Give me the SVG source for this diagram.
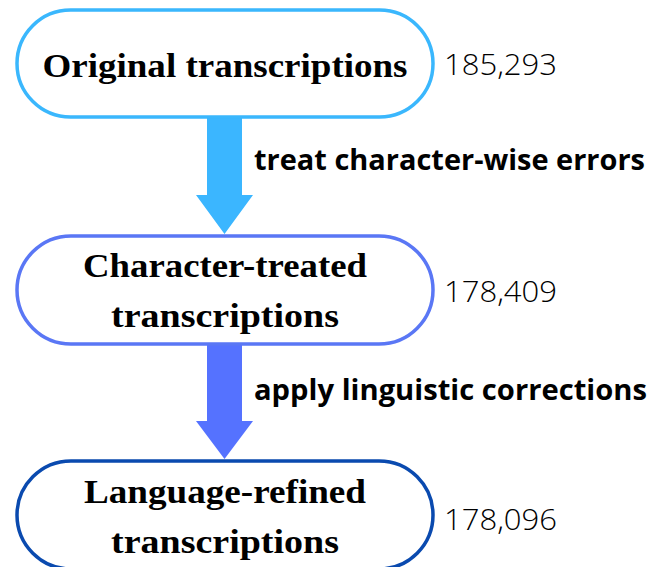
<svg xmlns="http://www.w3.org/2000/svg" width="654" height="567" viewBox="0 0 654 567">
<style>
.box{fill:#ffffff;stroke-width:3.5}
.nt{font-family:"Liberation Serif","DejaVu Serif",serif;font-weight:bold;font-size:34px;fill:#000;text-anchor:middle}
.num{font-family:"Open Sans","Noto Sans",sans-serif;font-weight:300;font-size:30px;fill:#000}
.lbl{font-family:"Open Sans","Noto Sans",sans-serif;font-weight:bold;font-size:29px;fill:#000}
</style>
<rect width="654" height="567" fill="#ffffff"/>
<g id="connectors">
<path d="M207,118 H242 V195 H253 L224.5,234 L196,195 H207 Z" fill="#3bb6ff"/>
<text class="lbl" x="254" y="170" textLength="391" lengthAdjust="spacingAndGlyphs">treat character-wise errors</text>
<path d="M207,345 H242 V421 H253 L224.5,459 L196,421 H207 Z" fill="#5572ff"/>
<text class="lbl" x="254" y="400" textLength="393" lengthAdjust="spacingAndGlyphs">apply linguistic corrections</text>
</g>
<g id="node1">
<rect class="box" x="17" y="10" width="416" height="107" rx="53.5" stroke="#3ab7fd"/>
<text class="nt" x="225" y="77" textLength="365" lengthAdjust="spacingAndGlyphs">Original transcriptions</text>
<text class="num" x="444" y="75" textLength="113" lengthAdjust="spacingAndGlyphs">185,293</text>
</g>
<g id="node2">
<rect class="box" x="17" y="236" width="416" height="108" rx="54" stroke="#5a77f5"/>
<text class="nt" x="225" y="277" textLength="284" lengthAdjust="spacingAndGlyphs">Character-treated</text>
<text class="nt" x="225" y="327" textLength="228" lengthAdjust="spacingAndGlyphs">transcriptions</text>
<text class="num" x="444" y="302" textLength="113" lengthAdjust="spacingAndGlyphs">178,409</text>
</g>
<g id="node3">
<rect class="box" x="17" y="461" width="416" height="108" rx="54" stroke="#0a4aaf"/>
<text class="nt" x="225" y="503" textLength="282" lengthAdjust="spacingAndGlyphs">Language-refined</text>
<text class="nt" x="225" y="553" textLength="228" lengthAdjust="spacingAndGlyphs">transcriptions</text>
<text class="num" x="444" y="530" textLength="113" lengthAdjust="spacingAndGlyphs">178,096</text>
</g>
</svg>
